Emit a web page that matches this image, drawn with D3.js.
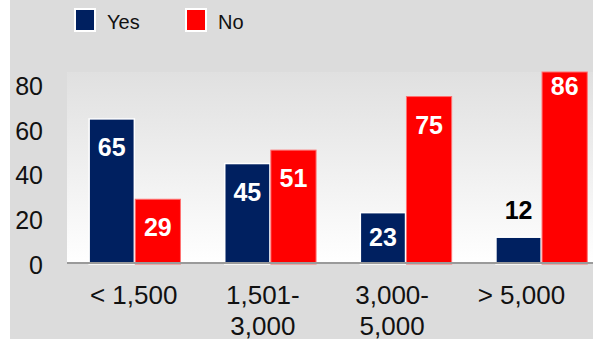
<!DOCTYPE html>
<html>
<head>
<meta charset="utf-8">
<script src="https://cdn.jsdelivr.net/npm/d3@7"></script>
<style>
  body { margin: 0; background: #fff; }
  text { font-family: "Liberation Sans", Arial, sans-serif; }
</style>
</head>
<body>
<div id="wrapper"></div>
<script>
// data
const categories = ["< 1,500", "1,501-\n3,000", "3,000-\n5,000", "> 5,000"]
const seriesNames = ["Yes", "No"]
const yesValues = [65, 45, 23, 12]
const noValues = [29, 51, 75, 86]
const yTicks = [0, 20, 40, 60, 80]

const colors = { Yes: "#002060", No: "#ff0000" }

function drawBars() {
  const dimensions = {
    width: 593,
    height: 346,
    plotLeft: 67,
    plotTop: 72,
    baseline: 264,
  }

  const svg = d3.select("#wrapper")
    .append("svg")
      .attr("width", dimensions.width)
      .attr("height", dimensions.height)

  // background panel
  svg.append("rect")
      .attr("x", 10)
      .attr("y", 0)
      .attr("width", dimensions.width - 10)
      .attr("height", 339)
      .attr("fill", "#dcdcdc")

  const defs = svg.append("defs")
  const grad = defs.append("linearGradient")
      .attr("id", "plotGrad")
      .attr("x1", 0).attr("y1", 0).attr("x2", 0).attr("y2", 1)
  grad.append("stop").attr("offset", "0%").attr("stop-color", "#e0e0e0")
  grad.append("stop").attr("offset", "100%").attr("stop-color", "#ffffff")

  svg.append("rect")
      .attr("x", dimensions.plotLeft)
      .attr("y", dimensions.plotTop)
      .attr("width", dimensions.width - dimensions.plotLeft)
      .attr("height", dimensions.baseline - dimensions.plotTop)
      .attr("fill", "url(#plotGrad)")

  // scales
  const yScale = d3.scaleLinear()
    .domain([0, 86])
    .range([dimensions.baseline, dimensions.plotTop])

  const x0 = d3.scaleBand()
    .domain(categories)
    .range([dimensions.plotLeft, 609.4])
    .padding(0)

  const x1 = d3.scaleBand()
    .domain(seriesNames)
    .range([0, x0.bandwidth()])
    .paddingInner(0.02)
    .paddingOuter(0.48)

  const xLabel = d3.scaleBand()
    .domain(categories)
    .range([69, 586])

  const rows = categories.map((c, i) => ({
    category: c,
    values: [
      { key: "Yes", value: yesValues[i] },
      { key: "No", value: noValues[i] },
    ],
  }))

  // bars
  const groups = svg.append("g")
    .selectAll("g")
    .data(rows)
    .join("g")
      .attr("transform", d => `translate(${x0(d.category)},0)`)

  groups.selectAll("rect")
    .data(d => d.values)
    .join("rect")
      .attr("x", d => x1(d.key))
      .attr("y", d => yScale(d.value))
      .attr("width", x1.bandwidth())
      .attr("height", d => yScale(0) - yScale(d.value))
      .attr("fill", d => colors[d.key])
      .attr("stroke", d => d.key == "Yes" ? "#ffffff" : "#ff7070")
      .attr("stroke-width", d => d.key == "Yes" ? 1.5 : 1)

  // value labels
  groups.selectAll("text")
    .data(d => d.values)
    .join("text")
      .attr("x", d => x1(d.key) + x1.bandwidth() / 2)
      .attr("y", d => {
        const top = yScale(d.value)
        if (d.value < 15) return top - 18
        if (d.value >= 80) return top + 23
        return Math.min(top + 37, yScale(0) - 18)
      })
      .attr("text-anchor", "middle")
      .attr("font-size", 25)
      .attr("font-weight", "bold")
      .attr("fill", d => d.value < 15 ? "#000000" : "#ffffff")
      .text(d => d.value)

  // x axis line
  svg.append("line")
      .attr("x1", dimensions.plotLeft)
      .attr("x2", dimensions.width)
      .attr("y1", 263)
      .attr("y2", 263)
      .attr("stroke", "#9a9a9a")
      .attr("stroke-width", 2)

  // y axis labels
  const yAxis = d3.axisLeft(yScale)
    .tickValues(yTicks)
    .tickSize(0)
    .tickPadding(0)

  const yAxisGroup = svg.append("g")
      .attr("transform", "translate(43,0)")
      .call(yAxis)
  yAxisGroup.select(".domain").remove()
  yAxisGroup.selectAll("text")
      .attr("font-family", "Liberation Sans, Arial, sans-serif")
      .attr("font-size", 25)
      .attr("fill", "#111")
      .attr("dy", "0.36em")

  // category labels
  const catLabels = svg.append("g")
    .selectAll("text")
    .data(categories)
    .join("text")
      .attr("x", d => xLabel(d) + xLabel.bandwidth() / 2)
      .attr("y", 304)
      .attr("text-anchor", "middle")
      .attr("font-size", 26)
      .attr("fill", "#111")

  catLabels.selectAll("tspan")
    .data(d => d.split("\n").map(line => ({ line, x: xLabel(d) + xLabel.bandwidth() / 2 })))
    .join("tspan")
      .attr("x", d => d.x)
      .attr("dy", (d, i) => i == 0 ? 0 : 31)
      .text(d => d.line)

  // legend
  const legendX = d3.scaleOrdinal()
    .domain(seriesNames)
    .range([74, 185])

  const legend = svg.append("g")
    .selectAll("g")
    .data(seriesNames)
    .join("g")
      .attr("transform", d => `translate(${legendX(d)},8)`)

  legend.append("rect")
      .attr("x", 1)
      .attr("y", 1)
      .attr("width", 20)
      .attr("height", 22)
      .attr("fill", d => colors[d])
      .attr("stroke", "#ffffff")
      .attr("stroke-width", 2)

  legend.append("text")
      .attr("x", 33)
      .attr("y", 21)
      .attr("font-size", 20)
      .attr("fill", "#111")
      .text(d => d)
}
drawBars()
</script>
</body>
</html>
